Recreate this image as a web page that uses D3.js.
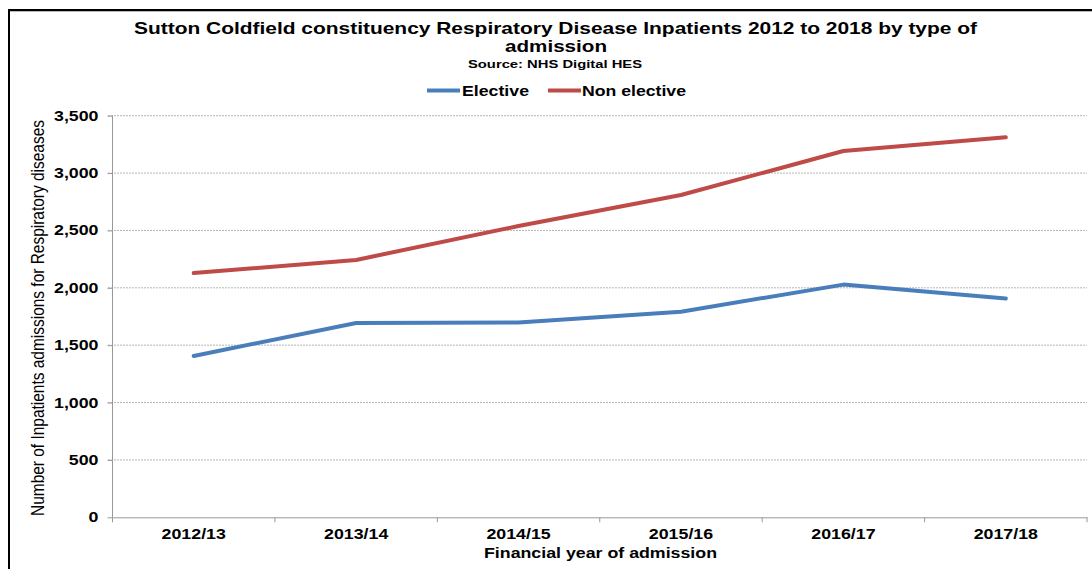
<!DOCTYPE html>
<html><head><meta charset="utf-8">
<script src="https://cdn.jsdelivr.net/npm/d3@7"></script>
<style>body{margin:0;background:#fff}svg{display:block}text{font-family:Arial,"Liberation Sans",sans-serif}</style>
</head><body><svg id="c" width="1092" height="569"></svg>
<script>
const categories = ["2012/13","2013/14","2014/15","2015/16","2016/17","2017/18"];
const elective = [1406, 1694, 1697, 1792, 2028, 1907];
const nonElective = [2129, 2243, 2539, 2809, 3192, 3312];
const yTicks = [0,500,1000,1500,2000,2500,3000,3500];
const seriesNames = ["Elective","Non elective"];
const colors = ["#4a7ebb","#be4b48"];

const STRETCH = 1.27;
function stretch(sel, target){
  sel.each(function(){
    const w = this.getComputedTextLength();
    this.setAttribute("textLength", target ? target : w*STRETCH);
    this.setAttribute("lengthAdjust","spacingAndGlyphs");
  });
}

const svg = d3.select("#c");
// border
svg.append("path").attr("d","M9,569 V10 H1092").attr("fill","none").attr("stroke","#000").attr("stroke-width",2);
svg.append("line").attr("x1",10).attr("x2",1092).attr("y1",11.5).attr("y2",11.5).attr("stroke","#bbb").attr("stroke-width",1);

const x = d3.scaleBand().domain(categories).range([112.5,1087]);
const y = d3.scaleLinear().domain([0,3500]).range([517.3,115.7]);

// gridlines
svg.append("g").selectAll("line").data(yTicks.filter(d=>d>0)).join("line")
  .attr("x1",108).attr("x2",1087).attr("y1",d=>y(d)).attr("y2",d=>y(d))
  .attr("stroke","#b5b5b5").attr("stroke-width",1).attr("stroke-dasharray","2,1");

// y axis
const ya = svg.append("g").attr("transform","translate(112.5,0)")
  .call(d3.axisLeft(y).tickValues(yTicks).tickSize(5).tickPadding(9).tickFormat(d3.format(",")));
ya.select(".domain").attr("stroke","#999").attr("d","M0,"+y(3500)+"V"+y(0));
ya.selectAll(".tick line").attr("stroke","#999");
ya.selectAll("text").attr("font-size",14).attr("font-weight","bold").attr("fill","#000").attr("font-family","Arial, 'Liberation Sans', sans-serif");
stretch(ya.selectAll("text"));

// x axis
const xa = svg.append("g").attr("transform","translate(0,"+y(0)+")")
  .call(d3.axisBottom(x).tickSize(0).tickPadding(12));
xa.select(".domain").attr("stroke","#999");
xa.selectAll("text").attr("font-size",14).attr("font-weight","bold").attr("fill","#000").attr("font-family","Arial, 'Liberation Sans', sans-serif");
stretch(xa.selectAll("text"));
const bounds = categories.map(c=>x(c)).concat([x.range()[1]]);
svg.append("g").selectAll("line").data(bounds).join("line")
  .attr("x1",d=>d).attr("x2",d=>d).attr("y1",y(0)).attr("y2",y(0)+5).attr("stroke","#999");

// lines
const line = d3.line().x((d,i)=>x(categories[i])+x.bandwidth()/2).y(d=>y(d));
[elective,nonElective].forEach((s,k)=>{
  svg.append("path").datum(s).attr("d",line).attr("fill","none")
    .attr("stroke",colors[k]).attr("stroke-width",4).attr("stroke-linejoin","round").attr("stroke-linecap","round");
});

// titles
const t1 = svg.append("text").attr("x",555.5).attr("y",34.3).attr("text-anchor","middle").attr("font-weight","bold").attr("font-size",16.5)
  .text("Sutton Coldfield constituency Respiratory Disease Inpatients 2012 to 2018 by type of");
stretch(t1, 843);
const t2 = svg.append("text").attr("x",556).attr("y",51.7).attr("text-anchor","middle").attr("font-weight","bold").attr("font-size",16.5).text("admission");
stretch(t2, 102);
const t3 = svg.append("text").attr("x",555).attr("y",68).attr("text-anchor","middle").attr("font-weight","bold").attr("font-size",11).text("Source: NHS Digital HES");
stretch(t3, 174);

// legend
const leg = [{x:427,tx:462,w:67},{x:548,tx:582,w:104}];
seriesNames.forEach((n,k)=>{
  svg.append("line").attr("x1",leg[k].x).attr("x2",leg[k].x+33).attr("y1",90.5).attr("y2",90.5)
    .attr("stroke",colors[k]).attr("stroke-width",4);
  const lt = svg.append("text").attr("x",leg[k].tx).attr("y",96).attr("font-weight","bold").attr("font-size",14.5).text(n);
  stretch(lt, leg[k].w);
});

// axis titles
const xt = svg.append("text").attr("x",600.5).attr("y",558).attr("text-anchor","middle").attr("font-weight","bold").attr("font-size",14.5).text("Financial year of admission");
stretch(xt, 233);
svg.append("text").attr("transform","translate(44,318) scale(1.27,1) rotate(-90)").attr("text-anchor","middle").attr("font-size",14.5)
  .attr("textLength",396).attr("lengthAdjust","spacingAndGlyphs").text("Number of Inpatients admissions for Respiratory diseases");
</script></body></html>
